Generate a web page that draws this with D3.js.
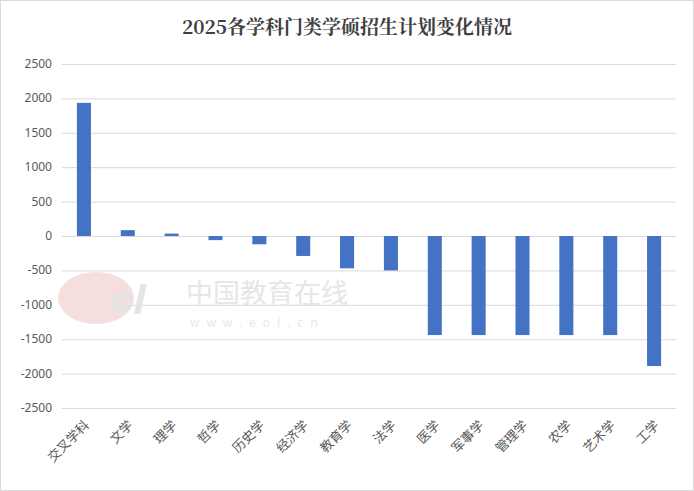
<!DOCTYPE html>
<html><head><meta charset="utf-8">
<script src="https://cdn.jsdelivr.net/npm/d3@7"></script>
<style>body{margin:0;background:#fff}</style>
</head><body>
<script>
    var categories = ["交叉学科","文学","理学","哲学","历史学","经济学","教育学","法学","医学","军事学","管理学","农学","艺术学","工学"];
    var values = [1935, 85, 35, -60, -120, -290, -470, -500, -1440, -1440, -1440, -1440, -1440, -1890];
    var ticks = [2500,2000,1500,1000,500,0,-500,-1000,-1500,-2000,-2500];

    var W = 694, H = 491, m = {l: 62, r: 18, t: 64, b: 0};
    var svg = d3.select("body").append("svg").attr("width", W).attr("height", H);
    svg.append("rect").attr("x", 0.5).attr("y", 0.5).attr("width", W - 1).attr("height", H - 1)
        .attr("fill", "#fff").attr("stroke", "#d9d9d9");

    var y = d3.scaleLinear().domain([-2500, 2500]).range([408, 64]);
    var x = d3.scaleBand().domain(categories).range([m.l, W - m.r]).paddingInner(0.68).paddingOuter(0.34);

    svg.append("text").attr("x", W / 2).attr("y", 34).attr("text-anchor", "middle")
        .attr("font-family", "Noto Serif CJK SC, Noto Sans CJK SC, serif").attr("font-size", 19)
        .attr("font-weight", "bold").attr("fill", "#404040").text("2025各学科门类学硕招生计划变化情况");

    svg.append("g").selectAll("line").data(ticks).enter().append("line")
        .attr("x1", m.l).attr("x2", W - m.r)
        .attr("y1", function (d) { return y(d) + 0.5; }).attr("y2", function (d) { return y(d) + 0.5; })
        .attr("stroke", "#d9d9d9");

    svg.append("g").selectAll("text").data(ticks).enter().append("text")
        .attr("x", 52).attr("y", function (d) { return y(d) + 4; }).attr("text-anchor", "end")
        .attr("font-family", "Noto Sans, sans-serif").attr("font-size", 12).attr("fill", "#595959")
        .text(function (d) { return d; });

    // watermark
    svg.append("text").attr("x", 186).attr("y", 303).attr("font-family", "Noto Sans CJK SC")
        .attr("font-size", 27).attr("fill", "#e6e6e6").text("中国教育在线");
    svg.append("text").attr("x", 190).attr("y", 327).attr("font-family", "Noto Sans")
        .attr("font-size", 12).attr("letter-spacing", 7).attr("fill", "#e8e8e8").text("www.eol.cn");
    svg.append("ellipse").attr("cx", 96).attr("cy", 298).attr("rx", 38).attr("ry", 26).attr("fill", "#f6dede");
    svg.append("text").attr("x", 110).attr("y", 314).attr("font-family", "Noto Sans").attr("font-style", "italic")
        .attr("font-weight", "bold").attr("font-size", 40).attr("fill", "#e4e4e4").text("ol");

    svg.append("g").selectAll("rect").data(values).enter().append("rect")
        .attr("x", function (d, i) { return x(categories[i]); })
        .attr("width", x.bandwidth())
        .attr("y", function (d) { return y(Math.max(0, d)); })
        .attr("height", function (d) { return Math.abs(y(d) - y(0)); })
        .attr("fill", "#4472c4");

    svg.append("g").selectAll("text").data(categories).enter().append("text")
        .attr("transform", function (d) { return "translate(" + (x(d) + x.bandwidth() / 2 + 6) + ",426) rotate(-45)"; })
        .attr("text-anchor", "end").attr("font-family", "Noto Sans CJK SC").attr("font-size", 13)
        .attr("fill", "#595959").text(function (d) { return d; });
</script>
</body></html>
